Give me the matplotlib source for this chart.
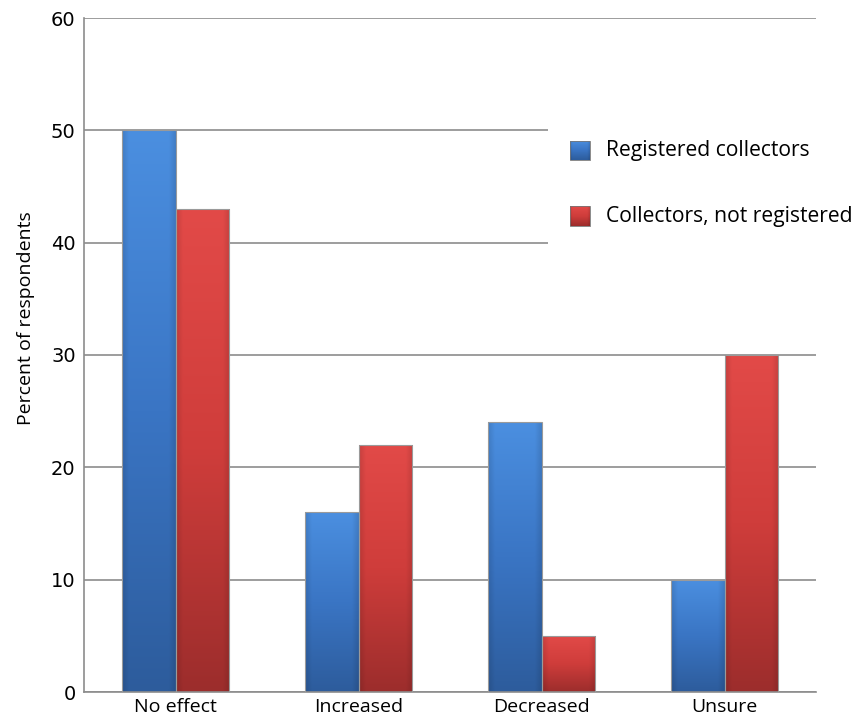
import numpy as np
import matplotlib
matplotlib.use("Agg")
import matplotlib.pyplot as plt
from matplotlib.colors import to_rgb
from matplotlib.patches import Rectangle

categories = ["No effect", "Increased", "Decreased", "Unsure"]
series_names = ["Registered collectors", "Collectors, not registered"]
registered = [50, 16, 24, 10]
not_registered = [43, 22, 5, 30]
y_ticks = [0, 10, 20, 30, 40, 50, 60]

BLUE = ("#4b8fe0", "#3a75c4", "#2d5c9c")
RED = ("#e24a48", "#cf3d3b", "#9c2d2c")


def shade(colors):
    """Bevelled fill: light top, dark bottom, darker side edges."""
    top, mid, bot = (np.array(to_rgb(c)) for c in colors)
    ny, nx = 200, 60
    t = np.linspace(0, 1, ny)[:, None, None]
    vert = np.where(t < 0.5, top + (mid - top) * (t / 0.5),
                    mid + (bot - mid) * ((t - 0.5) / 0.5))
    xs = np.linspace(-1, 1, nx)[None, :, None]
    edge = 1 - 0.12 * np.clip((np.abs(xs) - 0.75) / 0.25, 0, 1)
    img = vert * edge
    return np.clip(img, 0, 1)


def gradient_bar(ax, x, h, w, colors):
    rect = Rectangle((x - w / 2, 0), w, h, facecolor="none",
                     edgecolor="#9a9a9a", linewidth=0.8, zorder=3)
    ax.add_patch(rect)
    im = ax.imshow(shade(colors), extent=(x - w / 2, x + w / 2, 0, h),
                   aspect="auto", origin="upper", zorder=2,
                   interpolation="bilinear")
    im.set_clip_path(rect)


fig = plt.figure(figsize=(8.62, 7.24), dpi=100)
ax = fig.add_axes([84 / 862, 32 / 724, 732 / 862, 674 / 724])

bar_w = 0.295
x = np.arange(len(categories))
for i in x:
    gradient_bar(ax, i - bar_w / 2, registered[i], bar_w, BLUE)
    gradient_bar(ax, i + bar_w / 2, not_registered[i], bar_w, RED)

ax.set_xlim(-0.5, 3.5)
ax.set_ylim(0, 60)
ax.set_yticks(y_ticks)
ax.set_yticklabels([str(v) for v in y_ticks], fontsize=14,
                   family="DejaVu Sans")
ax.set_xticks(x)
ax.set_xticklabels(categories, fontsize=14, family="Open Sans")
ax.tick_params(axis="x", length=0, pad=4)
ax.tick_params(axis="y", length=0, pad=6)
ax.yaxis.grid(True, color="#8c8c8c", linewidth=1.2)
ax.set_axisbelow(True)
for side in ("top", "right"):
    ax.spines[side].set_visible(False)
for side in ("left", "bottom"):
    ax.spines[side].set_color("#8c8c8c")
    ax.spines[side].set_linewidth(1.2)
ax.set_ylabel("Percent of respondents", fontsize=14, family="Open Sans")
ax.yaxis.set_label_coords(-0.067, 0.555)

# legend panel over the upper gridlines
ax.add_patch(Rectangle((2.035, 39.6), 1.6, 10.7, facecolor="white",
                       edgecolor="none", zorder=1.5, clip_on=False))
for k, (name, cols) in enumerate(zip(series_names, (BLUE, RED))):
    yc = 48.2 - k * 5.85
    lx = 2.21
    sw, sh = 0.105, 1.75
    sq = Rectangle((lx - sw / 2, yc - sh / 2), sw, sh, facecolor="none",
                   edgecolor="#777777", linewidth=0.6, zorder=5, clip_on=False)
    ax.add_patch(sq)
    im = ax.imshow(shade(cols), extent=(lx - sw / 2, lx + sw / 2,
                   yc - sh / 2, yc + sh / 2), aspect="auto", zorder=4,
                   interpolation="bilinear")
    im.set_clip_path(sq)
    ax.text(2.355, yc, name, fontsize=15.2, family="Open Sans",
            va="center", ha="left", zorder=6)

ax.set_xlim(-0.5, 3.5)
ax.set_ylim(0, 60)
fig.savefig("out.png", dpi=100)
